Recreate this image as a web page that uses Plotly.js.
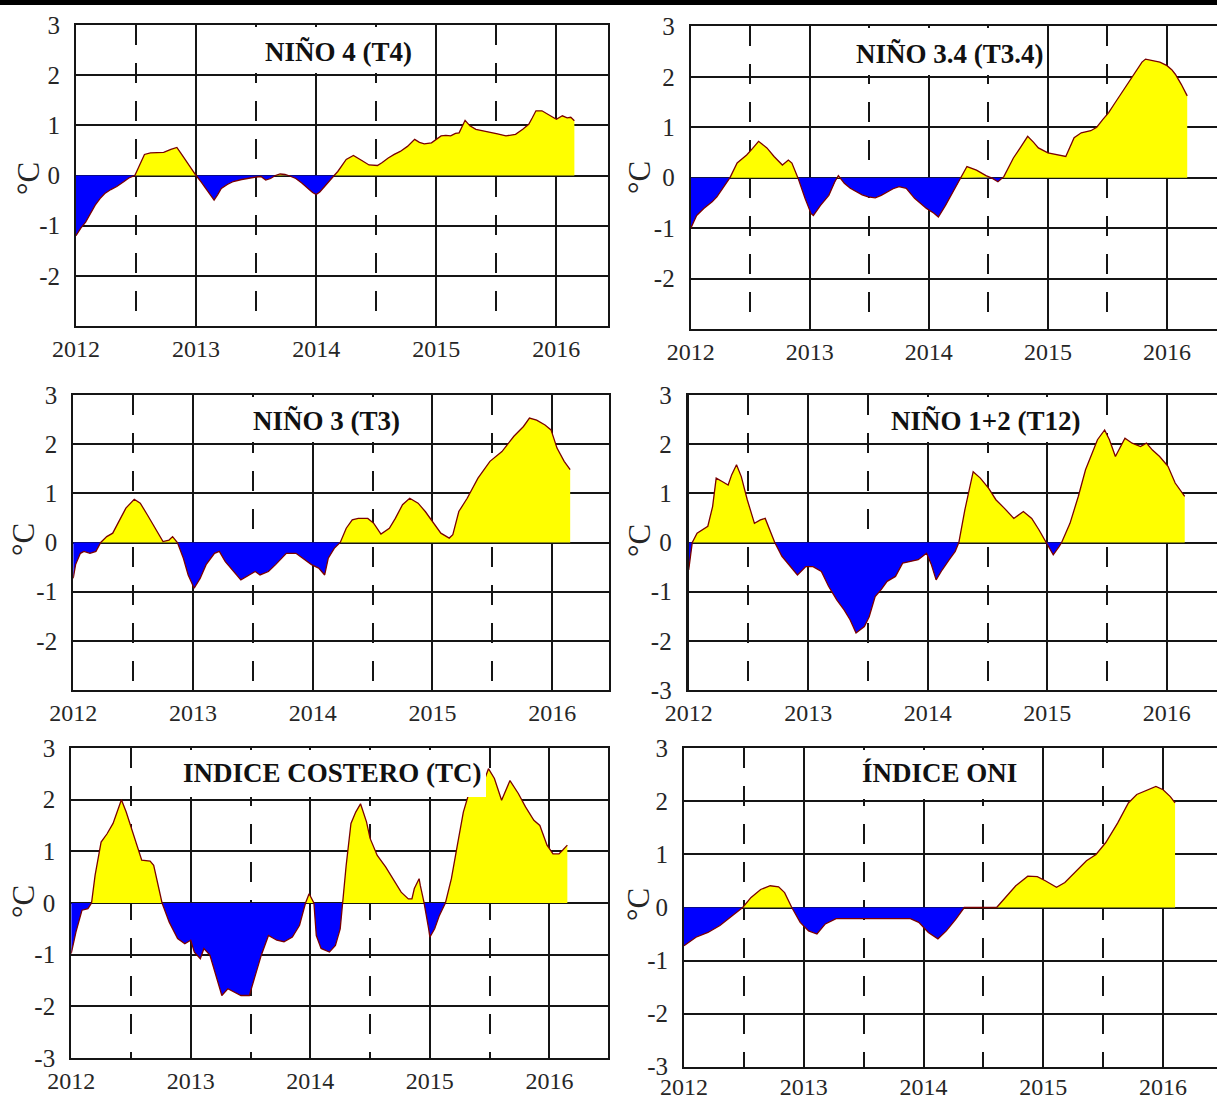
<!DOCTYPE html>
<html><head><meta charset="utf-8">
<script src="https://cdn.plot.ly/plotly-3.0.1.min.js"></script>
<style>html,body{margin:0;padding:0;background:#fff;} #chart{width:1217px;height:1101px;}</style>
</head><body><div id="chart"></div>
<script>
// ---- tick labels / categories ----
const yearTicks = [2012, 2013, 2014, 2015, 2016];
const halfYearTicks = [2012.5, 2013.5, 2014.5, 2015.5];
const yTicksShort = [-2, -1, 0, 1, 2, 3];
const yTicksFull = [-3, -2, -1, 0, 1, 2, 3];
const panelTitles = ["NIÑO 4 (T4)", "NIÑO 3.4 (T3.4)", "NIÑO 3 (T3)", "NIÑO 1+2 (T12)", "INDICE COSTERO (TC)", "ÍNDICE ONI"];
const unitLabel = "°C";

// ---- series (decimal year, anomaly °C) ----
const t4X = [2012.00,2012.04,2012.08,2012.12,2012.16,2012.20,2012.24,2012.29,2012.34,2012.40,2012.44,2012.49,2012.53,2012.57,2012.62,2012.68,2012.73,2012.79,2012.84,2012.88,2012.92,2012.96,2013.00,2013.04,2013.08,2013.12,2013.15,2013.18,2013.21,2013.26,2013.31,2013.38,2013.44,2013.50,2013.54,2013.58,2013.62,2013.66,2013.70,2013.74,2013.78,2013.83,2013.88,2013.93,2013.97,2014.00,2014.03,2014.07,2014.11,2014.15,2014.18,2014.21,2014.25,2014.31,2014.35,2014.38,2014.44,2014.51,2014.55,2014.60,2014.65,2014.70,2014.76,2014.82,2014.86,2014.90,2014.96,2015.00,2015.04,2015.08,2015.12,2015.16,2015.19,2015.24,2015.28,2015.33,2015.37,2015.41,2015.46,2015.51,2015.58,2015.62,2015.66,2015.72,2015.77,2015.80,2015.83,2015.88,2015.93,2016.00,2016.05,2016.09,2016.12,2016.15];
const t4Y = [-1.20,-1.05,-0.93,-0.75,-0.59,-0.46,-0.36,-0.28,-0.22,-0.12,-0.05,0.00,0.20,0.42,0.45,0.45,0.46,0.52,0.56,0.42,0.28,0.12,0.00,-0.12,-0.26,-0.38,-0.49,-0.38,-0.26,-0.18,-0.12,-0.08,-0.05,-0.03,-0.02,-0.09,-0.06,0.00,0.03,0.02,-0.01,-0.06,-0.15,-0.26,-0.34,-0.38,-0.33,-0.22,-0.10,0.00,0.08,0.18,0.32,0.40,0.35,0.30,0.21,0.20,0.26,0.35,0.42,0.48,0.58,0.72,0.66,0.63,0.65,0.72,0.79,0.80,0.79,0.84,0.85,1.10,0.99,0.92,0.90,0.89,0.86,0.83,0.79,0.80,0.82,0.92,1.02,1.15,1.29,1.29,1.22,1.12,1.19,1.15,1.16,1.09];

const t34X = [2012.00,2012.03,2012.05,2012.11,2012.18,2012.22,2012.26,2012.30,2012.33,2012.39,2012.47,2012.52,2012.57,2012.64,2012.70,2012.77,2012.82,2012.85,2012.88,2012.90,2012.96,2013.01,2013.03,2013.09,2013.16,2013.21,2013.24,2013.29,2013.34,2013.39,2013.44,2013.49,2013.55,2013.60,2013.65,2013.70,2013.75,2013.81,2013.88,2013.93,2013.98,2014.04,2014.08,2014.14,2014.21,2014.27,2014.32,2014.40,2014.48,2014.53,2014.58,2014.63,2014.67,2014.71,2014.77,2014.83,2014.88,2014.92,2015.00,2015.09,2015.15,2015.22,2015.28,2015.36,2015.41,2015.46,2015.51,2015.56,2015.61,2015.66,2015.71,2015.75,2015.79,2015.82,2015.87,2015.94,2016.00,2016.04,2016.07,2016.12,2016.17];
const t34Y = [-1.01,-0.85,-0.75,-0.61,-0.48,-0.38,-0.25,-0.12,0.00,0.29,0.45,0.58,0.72,0.59,0.42,0.25,0.35,0.29,0.12,0.00,-0.41,-0.71,-0.75,-0.55,-0.35,-0.08,0.04,-0.11,-0.21,-0.28,-0.34,-0.38,-0.40,-0.35,-0.29,-0.22,-0.18,-0.21,-0.41,-0.52,-0.61,-0.70,-0.78,-0.55,-0.25,0.00,0.22,0.15,0.04,-0.01,-0.08,0.02,0.20,0.39,0.60,0.82,0.70,0.59,0.49,0.45,0.42,0.79,0.89,0.93,1.00,1.15,1.29,1.47,1.65,1.83,2.00,2.15,2.29,2.35,2.32,2.29,2.22,2.14,2.05,1.85,1.62];

const t3X = [2012.00,2012.02,2012.06,2012.09,2012.14,2012.19,2012.23,2012.28,2012.33,2012.38,2012.44,2012.51,2012.56,2012.62,2012.69,2012.75,2012.80,2012.83,2012.87,2012.92,2012.96,2013.01,2013.06,2013.11,2013.18,2013.22,2013.27,2013.34,2013.40,2013.47,2013.52,2013.56,2013.63,2013.69,2013.78,2013.86,2013.92,2013.99,2014.05,2014.10,2014.13,2014.18,2014.23,2014.28,2014.33,2014.38,2014.46,2014.51,2014.57,2014.64,2014.69,2014.75,2014.81,2014.88,2014.94,2015.01,2015.07,2015.14,2015.17,2015.22,2015.29,2015.38,2015.48,2015.58,2015.68,2015.76,2015.81,2015.87,2015.94,2015.99,2016.04,2016.10,2016.15];
const t3Y = [-0.73,-0.45,-0.22,-0.18,-0.22,-0.18,0.00,0.12,0.19,0.43,0.70,0.88,0.80,0.56,0.26,0.02,0.05,0.12,0.00,-0.32,-0.66,-0.93,-0.73,-0.45,-0.22,-0.18,-0.39,-0.59,-0.76,-0.66,-0.59,-0.66,-0.59,-0.45,-0.22,-0.22,-0.32,-0.45,-0.52,-0.66,-0.32,-0.12,0.00,0.29,0.46,0.49,0.49,0.39,0.17,0.29,0.49,0.77,0.90,0.80,0.63,0.39,0.19,0.09,0.16,0.63,0.90,1.31,1.65,1.85,2.16,2.36,2.53,2.49,2.39,2.29,1.92,1.65,1.48];

const t12X = [2012.00,2012.03,2012.07,2012.11,2012.16,2012.20,2012.23,2012.28,2012.33,2012.36,2012.40,2012.44,2012.49,2012.55,2012.60,2012.64,2012.68,2012.72,2012.78,2012.85,2012.91,2012.98,2013.04,2013.11,2013.17,2013.24,2013.30,2013.35,2013.40,2013.47,2013.51,2013.56,2013.61,2013.66,2013.73,2013.79,2013.86,2013.92,2013.99,2014.03,2014.07,2014.12,2014.18,2014.23,2014.26,2014.31,2014.38,2014.44,2014.51,2014.57,2014.64,2014.72,2014.80,2014.87,2014.93,2014.99,2015.05,2015.10,2015.12,2015.19,2015.26,2015.32,2015.42,2015.48,2015.52,2015.57,2015.65,2015.71,2015.78,2015.83,2015.88,2015.94,2016.01,2016.07,2016.15];
const t12Y = [-0.56,0.00,0.19,0.26,0.33,0.73,1.31,1.24,1.17,1.38,1.58,1.34,0.87,0.39,0.46,0.49,0.26,0.00,-0.28,-0.49,-0.66,-0.49,-0.49,-0.59,-0.89,-1.17,-1.37,-1.57,-1.84,-1.71,-1.51,-1.10,-0.96,-0.79,-0.69,-0.42,-0.39,-0.35,-0.22,-0.45,-0.76,-0.56,-0.35,-0.18,0.00,0.66,1.44,1.31,1.10,0.87,0.70,0.49,0.63,0.49,0.26,0.00,-0.25,-0.08,0.00,0.39,0.94,1.48,2.09,2.29,2.09,1.75,2.12,2.02,1.95,2.02,1.88,1.75,1.55,1.21,0.94];

const tcX = [2012.00,2012.04,2012.09,2012.14,2012.17,2012.20,2012.25,2012.30,2012.35,2012.42,2012.46,2012.53,2012.59,2012.66,2012.69,2012.76,2012.82,2012.89,2012.95,2013.00,2013.03,2013.08,2013.11,2013.16,2013.21,2013.26,2013.31,2013.36,2013.42,2013.49,2013.54,2013.59,2013.65,2013.72,2013.78,2013.85,2013.91,2013.96,2013.99,2014.03,2014.05,2014.09,2014.16,2014.21,2014.25,2014.27,2014.30,2014.34,2014.38,2014.42,2014.47,2014.50,2014.56,2014.63,2014.69,2014.76,2014.82,2014.85,2014.87,2014.91,2014.92,2014.95,2014.99,2015.00,2015.04,2015.08,2015.13,2015.18,2015.23,2015.28,2015.33,2015.38,2015.44,2015.49,2015.54,2015.60,2015.67,2015.74,2015.80,2015.87,2015.92,2015.98,2016.03,2016.08,2016.11,2016.15];
const tcY = [-0.98,-0.56,-0.14,-0.11,0.00,0.54,1.18,1.34,1.54,2.00,1.76,1.25,0.83,0.81,0.73,0.00,-0.37,-0.69,-0.79,-0.72,-0.95,-1.08,-0.88,-1.01,-1.40,-1.79,-1.66,-1.72,-1.79,-1.79,-1.40,-1.01,-0.63,-0.72,-0.75,-0.66,-0.43,0.00,0.18,0.00,-0.63,-0.88,-0.95,-0.82,-0.50,0.00,0.73,1.54,1.76,1.92,1.57,1.25,0.92,0.70,0.47,0.21,0.08,0.08,0.28,0.47,0.34,0.02,-0.50,-0.66,-0.50,-0.24,0.00,0.47,1.12,1.76,2.15,2.25,2.28,2.60,2.41,1.99,2.37,2.12,1.86,1.60,1.50,1.12,0.95,0.95,1.02,1.12];

const oniX = [2012.00,2012.10,2012.20,2012.30,2012.40,2012.49,2012.56,2012.64,2012.72,2012.79,2012.84,2012.90,2012.97,2013.04,2013.11,2013.18,2013.27,2013.89,2013.96,2014.04,2014.12,2014.19,2014.27,2014.34,2014.61,2014.67,2014.77,2014.87,2014.95,2015.02,2015.11,2015.18,2015.26,2015.36,2015.44,2015.52,2015.62,2015.71,2015.78,2015.88,2015.94,2016.00,2016.06,2016.10];
const oniY = [-0.72,-0.56,-0.47,-0.34,-0.16,0.00,0.19,0.34,0.41,0.39,0.28,0.00,-0.28,-0.44,-0.50,-0.31,-0.21,-0.21,-0.28,-0.47,-0.59,-0.44,-0.22,0.00,0.00,0.16,0.41,0.59,0.58,0.50,0.38,0.47,0.66,0.88,1.00,1.22,1.59,1.97,2.13,2.22,2.28,2.22,2.09,1.97];

// ---- page geometry (pixels) ----
const W = 1217, H = 1101;
const panels = [
  {xs:t4X,  ys:t4Y,  L:76,    R:608,  T:25,    B:326,    xEnd:2016.43, yt:yTicksShort, mirrorY:true,  title:panelTitles[0], tx:338, ty:52,  box:[254,426,27,73],  ux:29,  uy:178, so:0},
  {xs:t34X, ys:t34Y, L:690.7, R:1217, T:26.3,  B:329,    xEnd:2016.42, yt:yTicksShort, mirrorY:false, title:panelTitles[1], tx:950, ty:54,  box:[852,1046,28,75], ux:640, uy:178, so:0},
  {xs:t3X,  ys:t3Y,  L:73.2,  R:608.5,T:395,   B:690,    xEnd:2016.47, yt:yTicksShort, mirrorY:true,  title:panelTitles[2], tx:326, ty:421, box:[240,422,397,442], ux:23, uy:540, so:0},
  {xs:t12X, ys:t12Y, L:688.7, R:1217, T:395,   B:690,    xEnd:2016.42, yt:yTicksFull,  mirrorY:false, title:panelTitles[3], tx:985, ty:421, box:[876,1094,397,442], ux:639, uy:541, so:0},
  {xs:tcX,  ys:tcY,  L:71.2,  R:608,  T:748,   B:1058,   xEnd:2016.49, yt:yTicksFull,  mirrorY:true,  title:panelTitles[4], tx:332, ty:773, box:[175,486,750,797], ux:23, uy:902, so:0},
  {xs:oniX, ys:oniY, L:684,   R:1217, T:748.3, B:1066.7, xEnd:2016.45, yt:yTicksFull,  mirrorY:false, title:panelTitles[5], tx:940, ty:773, box:[855,1030,750,799], ux:638, uy:905, so:-3}
];

function splitSigns(xs, ys){
  const px=[],py=[],nx=[],ny=[];
  for(let i=0;i<xs.length;i++){
    if(i>0){
      const y0=ys[i-1], y1=ys[i];
      if((y0>0&&y1<0)||(y0<0&&y1>0)){
        const xc = xs[i-1] + (xs[i]-xs[i-1])*(y0/(y0-y1));
        px.push(xc);py.push(0);nx.push(xc);ny.push(0);
      }
    }
    px.push(xs[i]); py.push(Math.max(ys[i],0));
    nx.push(xs[i]); ny.push(Math.min(ys[i],0));
  }
  return {px,py,nx,ny};
}

const serif = "'Liberation Serif', 'Times New Roman', Times, serif";
const gridCol = "#151515";
const traces = [];
const layout = {
  width: W, height: H,
  margin: {l:0, r:0, t:0, b:0},
  paper_bgcolor: "#ffffff", plot_bgcolor: "#ffffff",
  showlegend: false,
  font: {family: serif},
  shapes: [], annotations: []
};
const px2x = p => p / W;
const py2y = p => 1 - p / H;

panels.forEach((p, i) => {
  const n = i + 1;
  const xa = n === 1 ? "x" : "x" + n;
  const ya = n === 1 ? "y" : "y" + n;
  const s = splitSigns(p.xs, p.ys);
  traces.push({x:s.px, y:s.py, xaxis:xa, yaxis:ya, type:"scatter", mode:"lines", fill:"tozeroy",
    fillcolor:"#ffff00", line:{width:0, color:"rgba(0,0,0,0)"}, hoverinfo:"skip"});
  traces.push({x:s.nx, y:s.ny, xaxis:xa, yaxis:ya, type:"scatter", mode:"lines", fill:"tozeroy",
    fillcolor:"#0000ff", line:{width:0, color:"rgba(0,0,0,0)"}, hoverinfo:"skip"});
  traces.push({x:p.xs, y:p.ys, xaxis:xa, yaxis:ya, type:"scatter", mode:"lines",
    line:{width:1.3, color:"#7a0000"}, hoverinfo:"skip"});

  layout["xaxis" + (n === 1 ? "" : n)] = {
    domain:[px2x(p.L), px2x(p.R)], range:[2012, p.xEnd], anchor:ya,
    tickmode:"array", tickvals:yearTicks, ticktext:yearTicks.map(String),
    showgrid:true, gridcolor:gridCol, gridwidth:2,
    showline:true, mirror:true, linecolor:gridCol, linewidth:2,
    ticks:"", ticklabelstandoff:p.so, zeroline:false, fixedrange:true,
    tickfont:{family:serif, size:24, color:"#262626"},
    minor:{tickmode:"array", tickvals:halfYearTicks, showgrid:true, gridcolor:gridCol, gridwidth:2, griddash:"20px,18px", ticks:""}
  };
  layout["yaxis" + (n === 1 ? "" : n)] = {
    domain:[py2y(p.B), py2y(p.T)], range:[-3, 3], anchor:xa,
    tickmode:"array", tickvals:p.yt, ticktext:p.yt.map(String),
    showgrid:true, gridcolor:gridCol, gridwidth:2,
    showline:true, mirror:p.mirrorY, linecolor:gridCol, linewidth:(n===4?3:2),
    ticks:"", ticklabelstandoff:9, zeroline:false, fixedrange:true,
    tickfont:{family:serif, size:25, color:"#262626"}
  };
  // white box behind the panel title
  layout.shapes.push({type:"rect", xref:"paper", yref:"paper", layer:"above",
    x0:px2x(p.box[0]), x1:px2x(p.box[1]), y0:py2y(p.box[3]), y1:py2y(p.box[2]),
    fillcolor:"#ffffff", line:{width:0}});
  layout.annotations.push({text:"<b>" + p.title + "</b>", xref:"paper", yref:"paper",
    x:px2x(p.tx), y:py2y(p.ty), xanchor:"center", yanchor:"middle", showarrow:false,
    font:{family:serif, size:27, color:"#111111"}});
  layout.annotations.push({text:unitLabel, xref:"paper", yref:"paper",
    x:px2x(p.ux), y:py2y(p.uy), xanchor:"center", yanchor:"middle", showarrow:false, textangle:-90,
    font:{family:serif, size:31, color:"#262626"}});
});

// black bar at the very top of the picture
layout.shapes.push({type:"rect", xref:"paper", yref:"paper", layer:"above",
  x0:0, x1:1, y0:py2y(5), y1:1, fillcolor:"#000000", line:{width:0}});

Plotly.newPlot("chart", traces, layout, {staticPlot:true, displayModeBar:false});
</script>
</body></html>
